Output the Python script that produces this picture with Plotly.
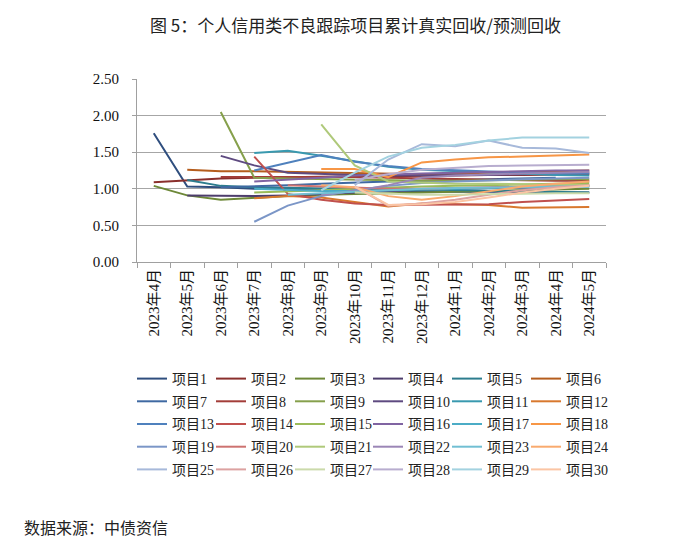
import plotly.graph_objects as go

months = ["2023年4月", "2023年5月", "2023年6月", "2023年7月", "2023年8月", "2023年9月",
          "2023年10月", "2023年11月", "2023年12月", "2024年1月", "2024年2月", "2024年3月",
          "2024年4月", "2024年5月"]

N = None
p1 = [1.76, 1.03, 1.02, 1.00, 1.00, 0.99, 0.98, 0.97, 0.97, 0.96, 0.96, 0.95, 0.95, 0.95]
p2 = [1.09, 1.12, 1.14, 1.15, 1.16, 1.17, 1.17, 1.17, 1.18, 1.18, 1.19, 1.19, 1.20, 1.20]
p3 = [1.04, 0.91, 0.85, 0.88, 0.90, 0.92, 0.93, 0.94, 0.95, 0.96, 0.97, 0.98, 0.99, 1.00]
p4 = [N, 0.91, 0.90, 0.90, 0.91, 0.93, 0.95, 0.97, 0.99, 1.00, 1.01, 1.02, 1.03, 1.04]
p5 = [N, 1.12, 1.04, 1.02, 1.01, 1.00, 1.00, 0.99, 0.99, 0.98, 0.97, 0.96, 0.95, 0.95]
p6 = [N, 1.26, 1.24, 1.24, 1.23, 1.22, 1.21, 1.20, 1.20, 1.21, 1.22, 1.23, 1.24, 1.25]
p7 = [N, N, 1.02, 1.03, 1.05, 1.07, 1.09, 1.10, 1.11, 1.12, 1.13, 1.14, 1.15, N]
p8 = [N, N, 1.16, 1.16, 1.17, 1.17, 1.16, 1.15, 1.14, 1.13, 1.12, 1.12, 1.11, 1.11]
p9 = [N, N, 2.05, 1.15, 1.14, 1.13, 1.12, 1.12, 1.11, 1.11, 1.12, 1.12, 1.13, 1.13]
p10 = [N, N, 1.45, 1.32, 1.22, 1.20, 1.19, 1.18, 1.18, 1.19, 1.19, 1.20, 1.21, 1.22]
p11 = [N, N, N, 1.49, 1.52, 1.45, 1.37, 1.30, 1.26, 1.24, 1.22, 1.20, 1.19, 1.18]
p12 = [N, N, N, 0.87, 0.90, 0.88, 0.82, 0.76, 0.80, 0.79, 0.78, 0.74, 0.74, 0.75]
p13 = [N, N, N, 1.25, 1.35, 1.46, 1.37, 1.31, 1.27, 1.25, 1.23, 1.22, 1.21, 1.21]
p14 = [N, N, N, 1.44, 0.93, 0.85, 0.80, 0.78, 0.78, 0.78, 0.79, 0.82, 0.84, 0.86]
p15 = [N, N, N, 0.95, 0.96, 0.98, 1.00, 1.02, 1.03, 1.04, 1.05, 1.06, 1.07, 1.08]
p16 = [N, N, N, 1.10, 1.12, 1.15, 1.18, 1.20, 1.21, 1.22, 1.23, 1.24, 1.25, 1.25]
p17 = [N, N, N, 1.00, 0.98, 0.97, 0.97, 0.98, 0.99, 1.00, 1.01, 1.02, 1.02, 1.03]
p18 = [N, N, N, N, N, 1.27, 1.27, 1.16, 1.36, 1.40, 1.43, 1.44, 1.45, 1.47]
p19 = [N, N, N, 0.55, 0.77, 0.90, 0.98, 1.04, 1.08, 1.10, 1.12, 1.13, 1.14, 1.15]
p20 = [N, N, N, N, 1.05, 1.03, 1.02, 1.00, 1.00, 1.01, 1.02, 1.03, 1.04, 1.05]
p21 = [N, N, N, N, N, 1.88, 1.32, 1.10, 1.08, 1.07, 1.07, 1.06, 1.06, 1.05]
p22 = [N, N, N, N, N, 0.92, 0.97, 1.05, 1.15, 1.18, 1.20, 1.21, 1.22, 1.23]
p23 = [N, N, N, N, 0.92, 0.94, 0.96, 0.98, 1.00, 1.01, 1.02, 1.02, 1.03, 1.03]
p24 = [N, N, N, N, N, 1.05, 1.02, 0.90, 0.85, 0.90, 0.97, 1.03, 1.07, 1.10]
p25 = [N, N, N, N, N, N, 1.05, 1.40, 1.61, 1.58, 1.66, 1.56, 1.55, 1.49]
p26 = [N, N, N, N, N, N, 1.03, 0.77, 0.80, 0.85, 0.92, 0.98, 1.02, 1.05]
p27 = [N, N, N, N, N, N, 0.95, 0.93, 0.92, 0.92, 0.93, 0.93, 0.94, 0.94]
p28 = [N, N, N, N, N, N, 1.12, 1.20, 1.26, 1.29, 1.31, 1.32, 1.32, 1.33]
p29 = [N, N, N, N, N, 0.98, 1.22, 1.44, 1.56, 1.60, 1.66, 1.70, 1.70, 1.70]
p30 = [N, N, N, N, N, N, 1.03, 0.78, 0.79, 0.82, 0.88, 0.95, 1.00, 1.04]

series = [p1, p2, p3, p4, p5, p6, p7, p8, p9, p10, p11, p12, p13, p14, p15,
          p16, p17, p18, p19, p20, p21, p22, p23, p24, p25, p26, p27, p28, p29, p30]
names = ["项目%d" % (i + 1) for i in range(30)]

colors = [
    "#2F4E7E", "#8A2F2C", "#6D8838", "#4D3D6C", "#2D7D8E", "#B55D1D",
    "#3F69A2", "#A33D39", "#86A04C", "#5E4A80", "#3999AF", "#D8782E",
    "#4F81BD", "#C0504D", "#9BBB59", "#8064A2", "#4BACC6", "#F79646",
    "#7B96C7", "#CD7270", "#AFC97A", "#9B86B6", "#71BFD3", "#F9AA6E",
    "#A7B9DA", "#DCA2A1", "#CBDAAB", "#B8ADCF", "#A3D2E0", "#FBC5A4",
]

serif = "Liberation Serif, Times New Roman, Noto Sans CJK SC, serif"
sans = "Noto Sans CJK SC, sans-serif"

fig = go.Figure()
for i, (nm, vals) in enumerate(zip(names, series)):
    col = i % 6
    lg = "legend" if col == 0 else "legend%d" % (col + 1)
    fig.add_trace(go.Scatter(
        x=months, y=vals, name=nm, mode="lines",
        line=dict(color=colors[i], width=2),
        connectgaps=False, legend=lg, legendgroup=nm,
    ))

col_px = [138, 217, 296, 374, 453, 532]
L, R, T, B = 137, 94, 79, 285
W, H = 700, 547
pw = W - L - R
ph = H - T - B

layout_legends = {}
for k, px in enumerate(col_px):
    key = "legend" if k == 0 else "legend%d" % (k + 1)
    layout_legends[key] = dict(
        x=(px - 6 - L) / pw, xanchor="left",
        y=(H - B - 363) / ph, yanchor="top",
        orientation="v", font=dict(family=serif, size=14, color="#222"),
        bgcolor="rgba(0,0,0,0)", tracegroupgap=1.5,
        itemwidth=30,
    )

fig.update_layout(
    width=W, height=H,
    margin=dict(l=L, r=R, t=T, b=B),
    paper_bgcolor="white", plot_bgcolor="white",
    showlegend=True,
    **layout_legends,
    xaxis=dict(
        type="category", range=[-0.5, 13.5], tickangle=-90,
        tickson="boundaries", ticks="outside", ticklen=5, tickcolor="#A0A0A0",
        showline=True, linecolor="#A0A0A0", linewidth=1, showgrid=False,
        tickfont=dict(family=serif, size=15, color="#111"),
    ),
    yaxis=dict(
        range=[0, 2.5], tickvals=[0, 0.5, 1.0, 1.5, 2.0, 2.5], tickformat=".2f",
        ticks="outside", ticklen=4, tickcolor="#A0A0A0", ticklabelstandoff=10,
        showline=True, linecolor="#A0A0A0", linewidth=1,
        showgrid=True, gridcolor="#A6A6A6", gridwidth=1, zeroline=False,
        tickfont=dict(family=serif, size=15, color="#111"),
    ),
    annotations=[
        dict(text="图 5：个人信用类不良跟踪项目累计真实回收/预测回收", xref="paper", yref="paper",
             x=(355 - L) / pw, y=(H - B - 25) / ph, xanchor="center", yanchor="middle",
             showarrow=False, font=dict(family=sans, size=17, color="#222")),
        dict(text="数据来源：中债资信", xref="paper", yref="paper",
             x=(22 - L) / pw, y=(H - B - 527) / ph, xanchor="left", yanchor="middle",
             showarrow=False, font=dict(family=sans, size=16, color="#222")),
    ],
)

fig.write_html("out.html")
